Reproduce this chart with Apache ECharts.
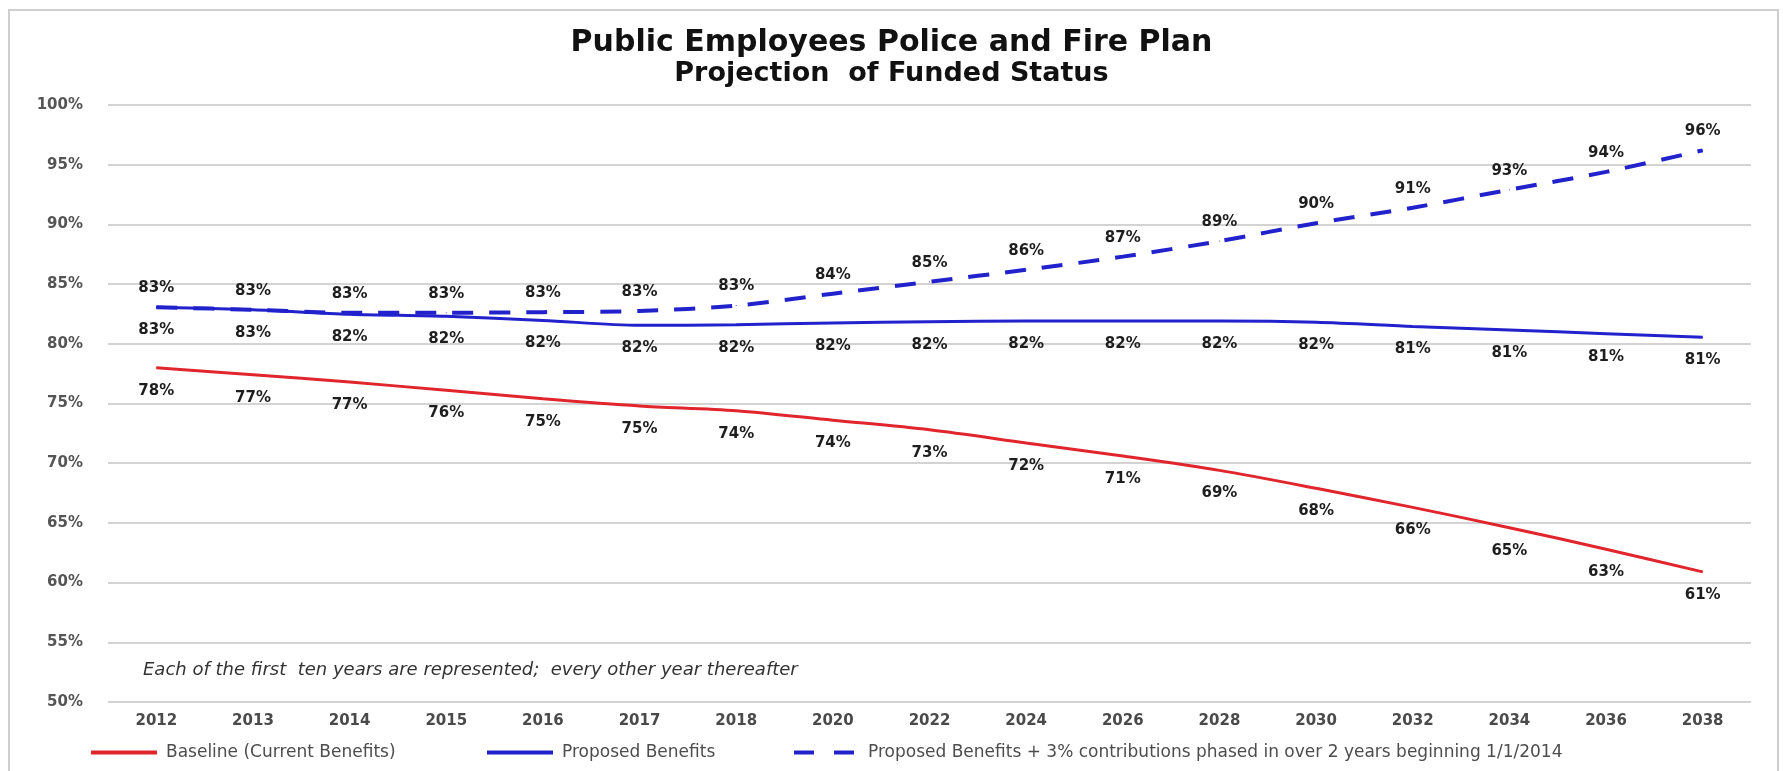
<!DOCTYPE html>
<html>
<head>
<meta charset="utf-8">
<script src="https://cdn.jsdelivr.net/npm/echarts@6/dist/echarts.min.js"></script>
<style>
html,body{margin:0;padding:0;background:#fff;}
#chart{width:1783px;height:771px;}
</style>
</head>
<body>
<div id="chart"></div>
<script>
// ---- data ----
var years = ['2012','2013','2014','2015','2016','2017','2018','2020','2022','2024','2026','2028','2030','2032','2034','2036','2038'];
var baseline = [78.0, 77.4, 76.8, 76.1, 75.4, 74.8, 74.4, 73.6, 72.8, 71.7, 70.6, 69.4, 67.9, 66.3, 64.6, 62.8, 60.9];
var proposed = [83.07, 82.85, 82.48, 82.3, 81.96, 81.55, 81.6, 81.75, 81.85, 81.9, 81.9, 81.9, 81.8, 81.45, 81.15, 80.85, 80.55];
var proposedPlus = [83.07, 82.85, 82.6, 82.6, 82.65, 82.75, 83.2, 84.2, 85.2, 86.2, 87.3, 88.6, 90.1, 91.4, 92.9, 94.4, 96.2];
var seriesNames = ['Baseline (Current Benefits)', 'Proposed Benefits', 'Proposed Benefits + 3% contributions phased in over 2 years beginning 1/1/2014'];
var titleText = 'Public Employees Police and Fire Plan';
var subtitleText = 'Projection  of Funded Status';
var noteText = 'Each of the first  ten years are represented;  every other year thereafter';

var FONT = 'DejaVu Sans';
var RED = '#e0262c';
var BLUE = '#2222cc';

function pct(p) { return Math.round(p.value) + '%'; }
function labelCfg(dy) {
  return {
    show: true, position: 'inside', offset: [0, dy], formatter: pct,
    fontFamily: FONT, fontWeight: 'bold', fontSize: 15, color: '#1e1e1e'
  };
}

var chart = echarts.init(document.getElementById('chart'));
chart.setOption({
  backgroundColor: '#ffffff',
  animation: false,
  graphic: [{
    type: 'rect', silent: true, z: -10,
    shape: { x: 9, y: 10, width: 1769, height: 790 },
    style: { fill: 'none', stroke: '#cfcfcf', lineWidth: 2 }
  }],
  title: [
    { text: titleText, left: 'center', top: 28, padding: 0,
      textStyle: { fontFamily: FONT, fontWeight: 'bold', fontSize: 30, color: '#111' } },
    { text: subtitleText, left: 'center', top: 60, padding: 0,
      textStyle: { fontFamily: FONT, fontWeight: 'bold', fontSize: 27, color: '#111' } },
    { text: noteText, left: 143, top: 661, padding: 0,
      textStyle: { fontFamily: FONT, fontStyle: 'italic', fontWeight: 'normal', fontSize: 18, color: '#333' } }
  ],
  legend: [
    { data: [seriesNames[0]], left: 89, top: 744, padding: 0, itemWidth: 66, itemHeight: 14,
      itemStyle: { opacity: 0 }, lineStyle: { width: 4 },
      textStyle: { fontFamily: FONT, fontSize: 17, color: '#4d4d4d', padding: [0, 0, 0, 4] } },
    { data: [seriesNames[1]], left: 485, top: 744, padding: 0, itemWidth: 66, itemHeight: 14,
      itemStyle: { opacity: 0 }, lineStyle: { width: 4 },
      textStyle: { fontFamily: FONT, fontSize: 17, color: '#4d4d4d', padding: [0, 0, 0, 4] } },
    { data: [seriesNames[2]], left: 792, top: 744, padding: 0, itemWidth: 63, itemHeight: 14,
      itemStyle: { opacity: 0 }, lineStyle: { width: 4, type: [20, 20] },
      textStyle: { fontFamily: FONT, fontSize: 17, color: '#4d4d4d', padding: [0, 0, 0, 6] } }
  ],
  grid: { left: 108, right: 32, top: 105, bottom: 69, containLabel: false },
  xAxis: {
    type: 'category', data: years, boundaryGap: true,
    axisLine: { show: false }, axisTick: { show: false },
    axisLabel: { margin: 12, fontFamily: FONT, fontWeight: 'bold', fontSize: 15, color: '#4a4a4a' }
  },
  yAxis: {
    type: 'value', min: 50, max: 100, interval: 5,
    axisLine: { show: false }, axisTick: { show: false },
    axisLabel: { margin: 25, formatter: '{value}%', fontFamily: FONT, fontWeight: 'bold', fontSize: 15, color: '#555' },
    splitLine: { lineStyle: { color: '#d3d3d3', width: 2 } }
  },
  series: [
    { name: seriesNames[0], type: 'line', data: baseline, smooth: 0.3,
      symbol: 'circle', symbolSize: 1, itemStyle: { color: RED },
      lineStyle: { color: RED, width: 3 }, label: labelCfg(23) },
    { name: seriesNames[1], type: 'line', data: proposed, smooth: 0.3,
      symbol: 'circle', symbolSize: 1, itemStyle: { color: BLUE },
      lineStyle: { color: BLUE, width: 3 }, label: labelCfg(23) },
    { name: seriesNames[2], type: 'line', data: proposedPlus, smooth: 0.3,
      symbol: 'circle', symbolSize: 1, itemStyle: { color: BLUE },
      lineStyle: { color: BLUE, width: 4, type: [21, 16] }, label: labelCfg(-19) }
  ]
});
</script>
</body>
</html>
